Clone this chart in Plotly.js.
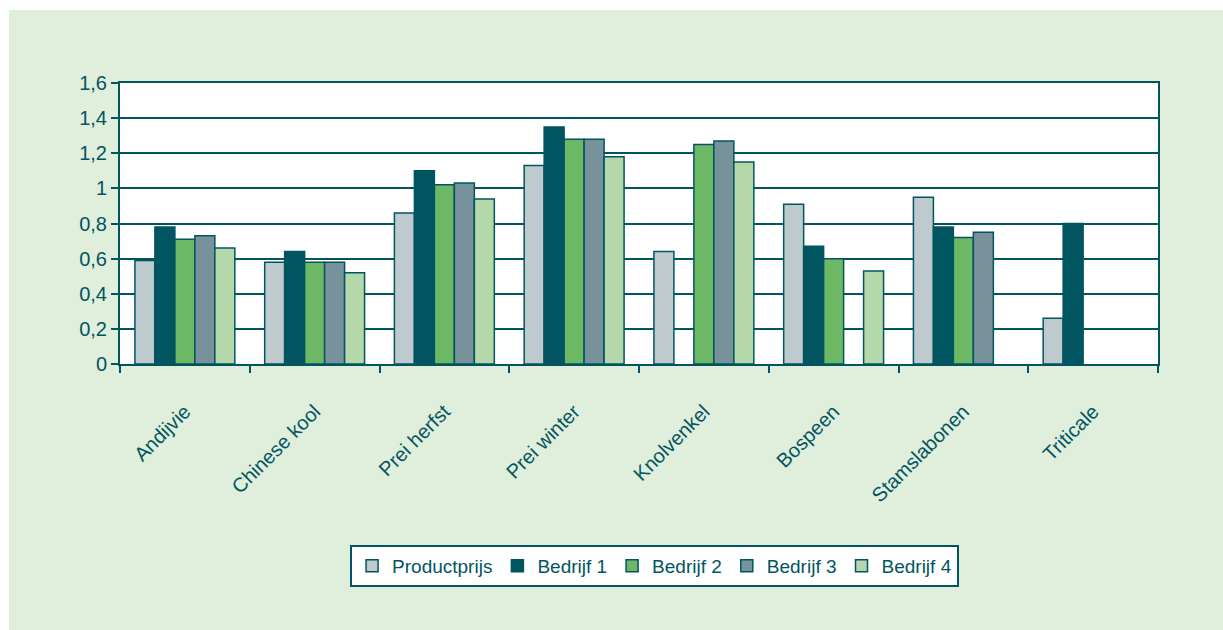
<!DOCTYPE html>
<html>
<head>
<meta charset="utf-8">
<script src="https://cdn.plot.ly/plotly-3.0.1.min.js"></script>
<style>
  html, body { margin: 0; padding: 0; background: #ffffff; }
  #chart { position: absolute; left: 9px; top: 10px; width: 1214px; height: 620px; }
</style>
</head>
<body>
<div id="chart"></div>
<script>
const categories = ["Andijvie", "Chinese kool", "Prei herfst", "Prei winter", "Knolvenkel", "Bospeen", "Stamslabonen", "Triticale"];
const productprijs = [0.59, 0.58, 0.86, 1.13, 0.64, 0.91, 0.95, 0.26];
const bedrijf1 = [0.78, 0.64, 1.10, 1.35, null, 0.67, 0.78, 0.80];
const bedrijf2 = [0.71, 0.58, 1.02, 1.28, 1.25, 0.60, 0.72, null];
const bedrijf3 = [0.73, 0.58, 1.03, 1.28, 1.27, null, 0.75, null];
const bedrijf4 = [0.66, 0.52, 0.94, 1.18, 1.15, 0.53, null, null];
const seriesNames = ["Productprijs", "Bedrijf 1", "Bedrijf 2", "Bedrijf 3", "Bedrijf 4"];
const seriesValues = [productprijs, bedrijf1, bedrijf2, bedrijf3, bedrijf4];
const seriesColors = ["#bfcacf", "#005560", "#6cb865", "#78929c", "#b5d8aa"];

const dark = "#005560";
const traces = seriesNames.map((name, i) => ({
  type: "bar",
  name: name,
  x: categories,
  y: seriesValues[i],
  marker: { color: seriesColors[i], line: { color: dark, width: 1.5 } },
  hoverinfo: "x+y+name"
}));

const layout = {
  width: 1214,
  height: 620,
  paper_bgcolor: "#e0eedc",
  plot_bgcolor: "#ffffff",
  separators: ",.",
  margin: { l: 111, r: 65, t: 73, b: 266 },
  font: { family: "Liberation Sans, Arial, sans-serif", color: dark },
  barmode: "group",
  bargap: 0.23,
  bargroupgap: 0,
  showlegend: true,
  legend: {
    orientation: "h",
    x: 0.515, xanchor: "center",
    y: -0.644, yanchor: "top",
    bgcolor: "#ffffff",
    bordercolor: dark,
    borderwidth: 2,
    font: { size: 19, color: dark },
    itemwidth: 30,
    tracegroupgap: 0
  },
  xaxis: {
    type: "category",
    tickson: "boundaries",
    ticks: "outside",
    ticklen: 7,
    tickwidth: 2,
    tickcolor: dark,
    showline: true,
    mirror: true,
    linecolor: dark,
    linewidth: 2,
    tickangle: -45,
    tickfont: { size: 20, color: dark },
    ticklabelstandoff: 26,
    showgrid: false,
    fixedrange: true
  },
  yaxis: {
    range: [0, 1.6],
    dtick: 0.2,
    tick0: 0,
    ticks: "outside",
    ticklen: 7,
    tickwidth: 2,
    tickcolor: dark,
    showline: true,
    mirror: true,
    linecolor: dark,
    linewidth: 2,
    showgrid: true,
    gridcolor: dark,
    gridwidth: 2,
    zeroline: false,
    tickfont: { size: 20, color: dark },
    fixedrange: true
  }
};

Plotly.newPlot("chart", traces, layout, { displayModeBar: false, staticPlot: false });
</script>
</body>
</html>
